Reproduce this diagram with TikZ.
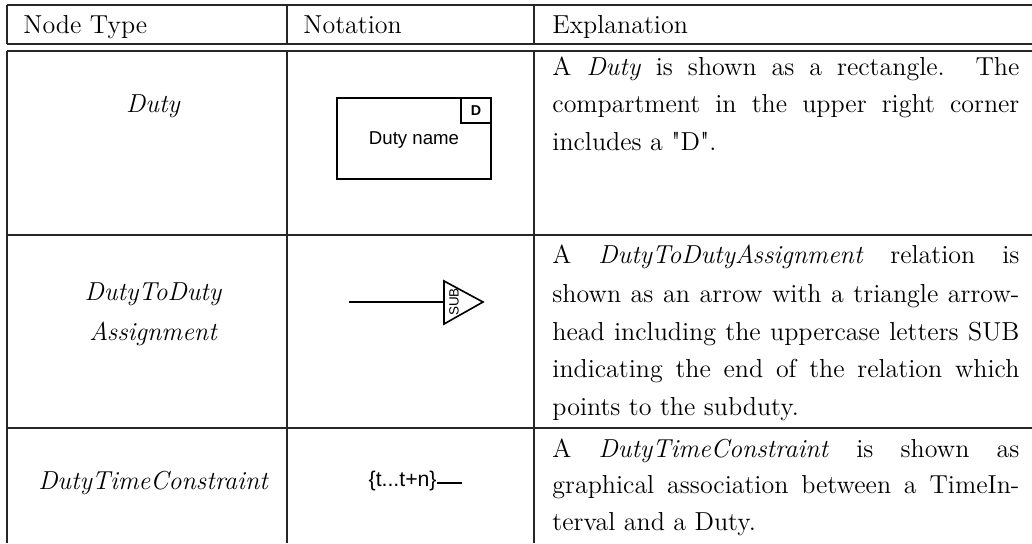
\documentclass[tikz,border=0pt]{standalone}
\usepackage{fontspec}
\defaultfontfeatures{}
\setmainfont{Latin Modern Roman}
\newfontfamily\arialfont{Liberation Sans}
\newcommand{\sq}{\XeTeXglyph\XeTeXcharglyph"22\relax}
\begin{document}
\begin{tikzpicture}[x=0.4615pt,y=-0.4615pt,
  rule/.style={line width=0.5pt, draw=black!85},
  txt/.style={inner sep=0pt, font=\fontsize{12}{14.5}\selectfont},
  jline/.style={txt, anchor=base west},
  glyph/.style={line width=0.75pt, draw=black}]
\useasboundingbox (0,0) rectangle (1032,543);
% horizontal rules
\foreach \yy in {5,44,51,235,428} \draw[rule] (7,\yy) -- (1032,\yy);
% vertical rules
\foreach \xx in {7,287,534} {
  \draw[rule] (\xx,5) -- (\xx,44);
  \draw[rule] (\xx,51) -- (\xx,543);
}
% header
\node[jline] (h1) at (23,33) {Node Type};
\node[jline] (h2) at (303,33) {Notation};
\node[jline] (h3) at (552,33) {Explanation};
% node type column
\node[txt, anchor=base] (t1) at (153,112) {\itshape Duty};
\node[txt, anchor=base] (t2a) at (153,300) {\itshape DutyToDuty};
\node[txt, anchor=base] (t2b) at (153,340) {\itshape Assignment};
\node[txt, anchor=base] (t3) at (153,489) {\itshape DutyTimeConstraint};
% notation: duty box
\draw[glyph] (337,98) rectangle (491,179);
\draw[glyph] (461,98) -- (461,123) -- (491,123);
\node[inner sep=0pt, font=\arialfont\bfseries\fontsize{6.6}{7}\selectfont] (dl) at (476,111) {D};
\node[inner sep=0pt, font=\arialfont\fontsize{8.6}{9}\selectfont] (dn) at (414,140) {Duty name};
% notation: SUB arrow
\coordinate (as) at (349,302);
\coordinate (ae) at (444,302);
\draw[glyph] (as) -- (ae);
\draw[glyph, line join=miter] (444,281) -- (483,302) -- (444,324) -- cycle;
\node[inner sep=0pt, rotate=90, font=\arialfont\fontsize{6.2}{7}\selectfont] (sub) at (454,302) {SUB};
% notation: time constraint
\node[inner sep=0pt, anchor=east, font=\arialfont\fontsize{9.8}{10}\selectfont] (tc) at (437,481) {\{t...t+n\}};
\coordinate (tce) at (462,483);
\draw[glyph] (tc.east |- tce) -- (tce);
% explanations
\node[jline] (e11) at (552,75) {\makebox[215.5pt][s]{A \textit{Duty} is shown as a rectangle. The}};
\node[jline] (e12) at (552,112) {\makebox[215.5pt][s]{compartment in the upper right corner}};
\node[jline] (e13) at (552,150) {includes a \sq D\sq.};
\node[jline] (e21) at (552,263) {\makebox[215.5pt][s]{A \textit{DutyToDutyAssignment} relation is}};
\node[jline] (e22) at (552,302) {\makebox[215.5pt][s]{shown as an arrow with a triangle arrow-}};
\node[jline] (e23) at (552,340) {\makebox[215.5pt][s]{head including the uppercase letters SUB}};
\node[jline] (e24) at (552,377) {\makebox[215.5pt][s]{indicating the end of the relation which}};
\node[jline] (e25) at (552,415) {points to the subduty.};
\node[jline] (e31) at (552,457) {\makebox[215.5pt][s]{A \textit{DutyTimeConstraint} is shown as}};
\node[jline] (e32) at (552,493) {\makebox[215.5pt][s]{graphical association between a TimeIn-}};
\node[jline] (e33) at (552,530) {terval and a Duty.};
\end{tikzpicture}
\end{document}
